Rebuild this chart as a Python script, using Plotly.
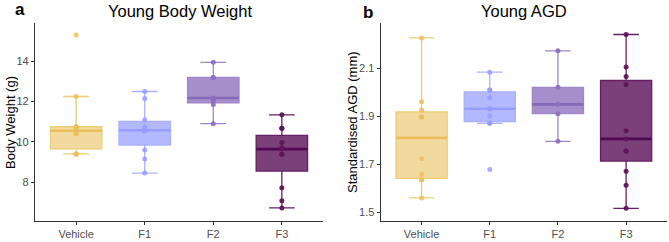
import numpy as np
import plotly.graph_objects as go

categories = ["Vehicle", "F1", "F2", "F3"]

# Panel a: Young Body Weight (g)
bw_vehicle = [15.3, 12.25, 10.75, 10.75, 10.7, 10.4, 10.4, 9.4, 9.4, 9.4]
bw_f1 = [12.5, 12.15, 11.1, 10.75, 10.6, 10.55, 10.55, 9.6, 9.15, 8.45]
bw_f2 = [13.95, 13.2, 13.2, 12.18, 12.03, 11.85, 10.9]
bw_f3 = [11.34, 10.67, 10.67, 9.97, 9.71, 9.64, 9.38, 9.38, 7.72, 7.08, 6.72]

# Panel b: Young AGD (standardised, mm)
agd_vehicle = [2.228, 1.962, 1.927, 1.898, 1.898, 1.725, 1.66, 1.637, 1.637, 1.561]
agd_f1 = [2.085, 2.011, 2.011, 1.979, 1.935, 1.931, 1.902, 1.872, 1.872, 1.68]
agd_f2 = [2.174, 2.022, 1.951, 1.912, 1.797]
agd_f3 = [2.242, 2.107, 2.067, 2.034, 1.841, 1.807, 1.757, 1.757, 1.672, 1.614, 1.518]

bw_ticks = [8, 10, 12, 14]
agd_ticks = [1.5, 1.7, 1.9, 2.1]

fills = ["rgba(238,205,125,0.75)", "rgba(160,166,255,0.8)", "rgba(150,122,196,0.85)", "rgba(100,30,98,0.85)"]
lines = ["rgb(238,203,118)", "rgb(170,176,255)", "rgb(160,135,202)", "rgb(102,30,100)"]
medcols = ["rgb(232,190,95)", "rgb(150,156,250)", "rgb(135,105,185)", "rgb(80,8,80)"]
pointcols = ["rgba(236,190,90,0.85)", "rgba(150,156,255,0.85)", "rgba(140,110,190,0.9)", "rgba(95,20,92,0.95)"]

FONT = "Liberation Sans, Arial, Helvetica, sans-serif"
BOXW = 0.75


def box_stats(vals):
    v = np.asarray(vals, dtype=float)
    q1, med, q3 = np.percentile(v, [25, 50, 75])
    iqr = q3 - q1
    lo = v[v >= q1 - 1.5 * iqr].min()
    hi = v[v <= q3 + 1.5 * iqr].max()
    return float(q1), float(med), float(q3), float(lo), float(hi)


fig = go.Figure()

panels = [
    ([bw_vehicle, bw_f1, bw_f2, bw_f3], "x", "y"),
    ([agd_vehicle, agd_f1, agd_f2, agd_f3], "x2", "y2"),
]

for data, xa, ya in panels:
    for i, vals in enumerate(data):
        q1, med, q3, lo, hi = box_stats(vals)
        fig.add_trace(go.Box(
            x=[i], q1=[q1], median=[med], q3=[q3], lowerfence=[lo], upperfence=[hi],
            xaxis=xa, yaxis=ya,
            width=BOXW, fillcolor=fills[i],
            line=dict(color=lines[i], width=1.3),
            boxpoints=False, showlegend=False, hoverinfo="skip",
        ))
        fig.add_trace(go.Scatter(
            x=[i - BOXW / 2, i + BOXW / 2], y=[med, med], xaxis=xa, yaxis=ya,
            mode="lines", line=dict(color=medcols[i], width=2.6),
            showlegend=False, hoverinfo="skip",
        ))
        fig.add_trace(go.Scatter(
            x=[i] * len(vals), y=vals, xaxis=xa, yaxis=ya, mode="markers",
            marker=dict(color=pointcols[i], size=5, line=dict(width=0)),
            showlegend=False, hoverinfo="y",
        ))

axis_common = dict(
    showgrid=False, zeroline=False, showline=True, linecolor="#333333", linewidth=1.2,
    ticks="outside", ticklen=3, tickcolor="#333333", tickwidth=1,
    tickfont=dict(family=FONT, size=11, color="#4D4D4D"),
)

annotations = [
    dict(text="Young Body Weight", x=0.229, y=1.06, xref="paper", yref="paper",
         xanchor="center", yanchor="middle", showarrow=False,
         font=dict(family=FONT, size=16.5, color="black")),
    dict(text="Young AGD", x=0.774, y=1.06, xref="paper", yref="paper",
         xanchor="center", yanchor="middle", showarrow=False,
         font=dict(family=FONT, size=16.5, color="black")),
    dict(text="<b>a</b>", x=-0.024, y=1.07, xref="paper", yref="paper",
         xanchor="center", yanchor="middle", showarrow=False,
         font=dict(family=FONT, size=17, color="black")),
    dict(text="<b>b</b>", x=0.527, y=1.055, xref="paper", yref="paper",
         xanchor="center", yanchor="middle", showarrow=False,
         font=dict(family=FONT, size=17, color="black")),
    dict(text="Body Weight (g)", x=-0.0396, y=0.5, xref="paper", yref="paper",
         xanchor="center", yanchor="middle", textangle=-90, showarrow=False,
         font=dict(family=FONT, size=13, color="black")),
    dict(text="Standardised AGD (mm)", x=0.5016, y=0.5, xref="paper", yref="paper",
         xanchor="center", yanchor="middle", textangle=-90, showarrow=False,
         font=dict(family=FONT, size=13, color="black")),
]

fig.update_layout(
    width=669, height=242,
    margin=dict(l=35, r=2, t=23, b=14),
    plot_bgcolor="white", paper_bgcolor="white",
    boxmode="overlay",
    xaxis=dict(domain=[0, 0.4557], range=[-0.6, 3.6], tickvals=[0, 1, 2, 3],
               ticktext=categories, **axis_common),
    yaxis=dict(range=[6.07, 15.9], tickvals=bw_ticks, ticktext=[str(t) for t in bw_ticks],
               **axis_common),
    xaxis2=dict(domain=[0.547, 1], range=[-0.6, 3.6], tickvals=[0, 1, 2, 3],
                ticktext=categories, anchor="y2", **axis_common),
    yaxis2=dict(range=[1.465, 2.29], tickvals=agd_ticks, ticktext=[f"{t:.1f}" for t in agd_ticks],
                anchor="x2", **axis_common),
    annotations=annotations,
)

fig.write_html(
    "out.html",
    config={"displayModeBar": False},
    post_script="document.body.style.margin='0';document.body.style.overflow='hidden';",
)
